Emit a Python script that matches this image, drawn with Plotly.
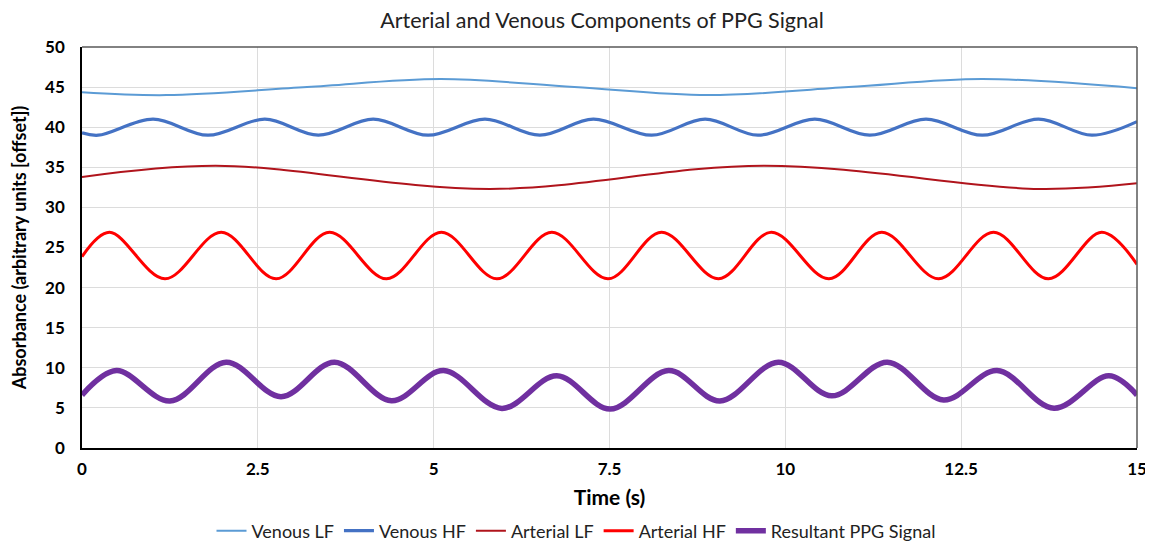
import plotly.graph_objects as go

# ---- data (extremes + end points) ----
venous_lf_t = [0, 1.2, 3.2, 5.1, 7.0, 8.9, 10.9, 12.8, 15]
venous_lf_y = [44.35, 44.0, 45.0, 46.0, 45.0, 44.0, 45.0, 46.0, 44.85]

venous_hf_t = [0, 0.23, 1.01, 1.79, 2.6, 3.36, 4.14, 4.92, 5.73, 6.51, 7.27, 8.1, 8.86,
               9.61, 10.42, 11.2, 12.0, 12.8, 13.6, 14.36, 15]
venous_hf_y = [39.3, 39.0, 41.0, 39.0, 41.0, 39.0, 41.0, 39.0, 41.0, 39.0, 41.0, 39.0, 41.0,
               39.0, 41.0, 39.0, 41.0, 39.0, 41.0, 39.0, 40.7]

arterial_lf_t = [0, 1.9, 5.8, 9.7, 13.6, 15]
arterial_lf_y = [33.8, 35.2, 32.3, 35.2, 32.3, 33.0]

arterial_hf_t = [0, 0.39, 1.18, 1.98, 2.76, 3.52, 4.33, 5.11, 5.9, 6.68, 7.48, 8.24, 9.05,
                 9.8, 10.62, 11.37, 12.18, 12.96, 13.74, 14.5, 15]
arterial_hf_y = [23.85, 26.9, 21.1, 26.9, 21.1, 26.9, 21.1, 26.9, 21.1, 26.9, 21.1, 26.9, 21.1,
                 26.9, 21.1, 26.9, 21.1, 26.9, 21.1, 26.9, 22.9]

ppg_t = [0, 0.49, 1.25, 2.05, 2.83, 3.59, 4.4, 5.14, 5.97, 6.75, 7.51, 8.34, 9.07,
         9.9, 10.66, 11.45, 12.25, 13.01, 13.82, 14.6, 15]
ppg_y = [6.6, 9.65, 5.86, 10.7, 6.4, 10.7, 5.9, 9.65, 4.94, 9.0, 4.86, 9.65, 5.86,
         10.7, 6.5, 10.7, 6.0, 9.65, 4.95, 9.0, 6.6]

x_ticks = [0, 2.5, 5, 7.5, 10, 12.5, 15]
x_tick_labels = ["0", "2.5", "5", "7.5", "10", "12.5", "15"]
y_ticks = [0, 5, 10, 15, 20, 25, 30, 35, 40, 45, 50]

series = [
    ("Venous LF", venous_lf_t, venous_lf_y, "#5B9BD5", 2),
    ("Venous HF", venous_hf_t, venous_hf_y, "#4472C4", 3.2),
    ("Arterial LF", arterial_lf_t, arterial_lf_y, "#B0141C", 2),
    ("Arterial HF", arterial_hf_t, arterial_hf_y, "#FF0000", 3),
    ("Resultant PPG Signal", ppg_t, ppg_y, "#7030A0", 5.5),
]

FONT = "Lato"
# the page body has an 8px margin, so the figure is sized / offset to compensate
W, H = 1145, 534

fig = go.Figure()
for name, t, y, color, w in series:
    fig.add_trace(go.Scatter(
        x=t, y=y, name=name, mode="lines",
        line=dict(color=color, width=w, shape="spline", smoothing=1.0),
    ))

fig.update_layout(
    width=W, height=H,
    margin=dict(l=74, r=16, t=39, b=94, autoexpand=False),
    paper_bgcolor="white", plot_bgcolor="white",
    font=dict(family=FONT, color="#000000"),
    title=dict(text="Arterial and Venous Components of PPG Signal",
               x=(602 - 8) / W, xanchor="center", y=1 - 12 / H, yanchor="middle",
               font=dict(family=FONT, size=21.5, color="#222222")),
    legend=dict(orientation="h", x=(576 - 8 - 74) / (W - 90), xanchor="center",
                y=-0.207, yanchor="middle",
                font=dict(family=FONT, size=18, color="#222222"),
                itemwidth=30, tracegroupgap=0),
    showlegend=True,
)

fig.update_xaxes(
    range=[0, 15], tickvals=x_ticks, ticktext=x_tick_labels,
    showgrid=True, gridcolor="#DCDCDC", gridwidth=1,
    showline=True, linecolor="#000000", linewidth=1.5,
    zeroline=False, ticks="", ticklabelstandoff=5, automargin=False,
    tickfont=dict(family=FONT, size=17, color="#000000", weight="bold"),
    title=dict(text="<b>Time (s)</b>", font=dict(family=FONT, size=21, color="#000000"),
               standoff=12),
)
fig.update_yaxes(
    range=[0, 50], tickvals=y_ticks,
    showgrid=True, gridcolor="#DCDCDC", gridwidth=1,
    showline=True, linecolor="#000000", linewidth=1.5,
    zeroline=False, ticks="", ticklabelstandoff=12, automargin=False,
    tickfont=dict(family=FONT, size=17, color="#000000", weight="bold"),
    title=dict(text="<b>Absorbance (arbitrary units [offset])</b>",
               font=dict(family=FONT, size=18, color="#000000"), standoff=14),
)

# grey frame at top and right
fig.add_shape(type="line", xref="paper", yref="paper", x0=0, x1=1, y0=1, y1=1,
              line=dict(color="#595959", width=1.5))
fig.add_shape(type="line", xref="paper", yref="paper", x0=1, x1=1, y0=0, y1=1,
              line=dict(color="#595959", width=1.5))

fig.write_html("out.html")
